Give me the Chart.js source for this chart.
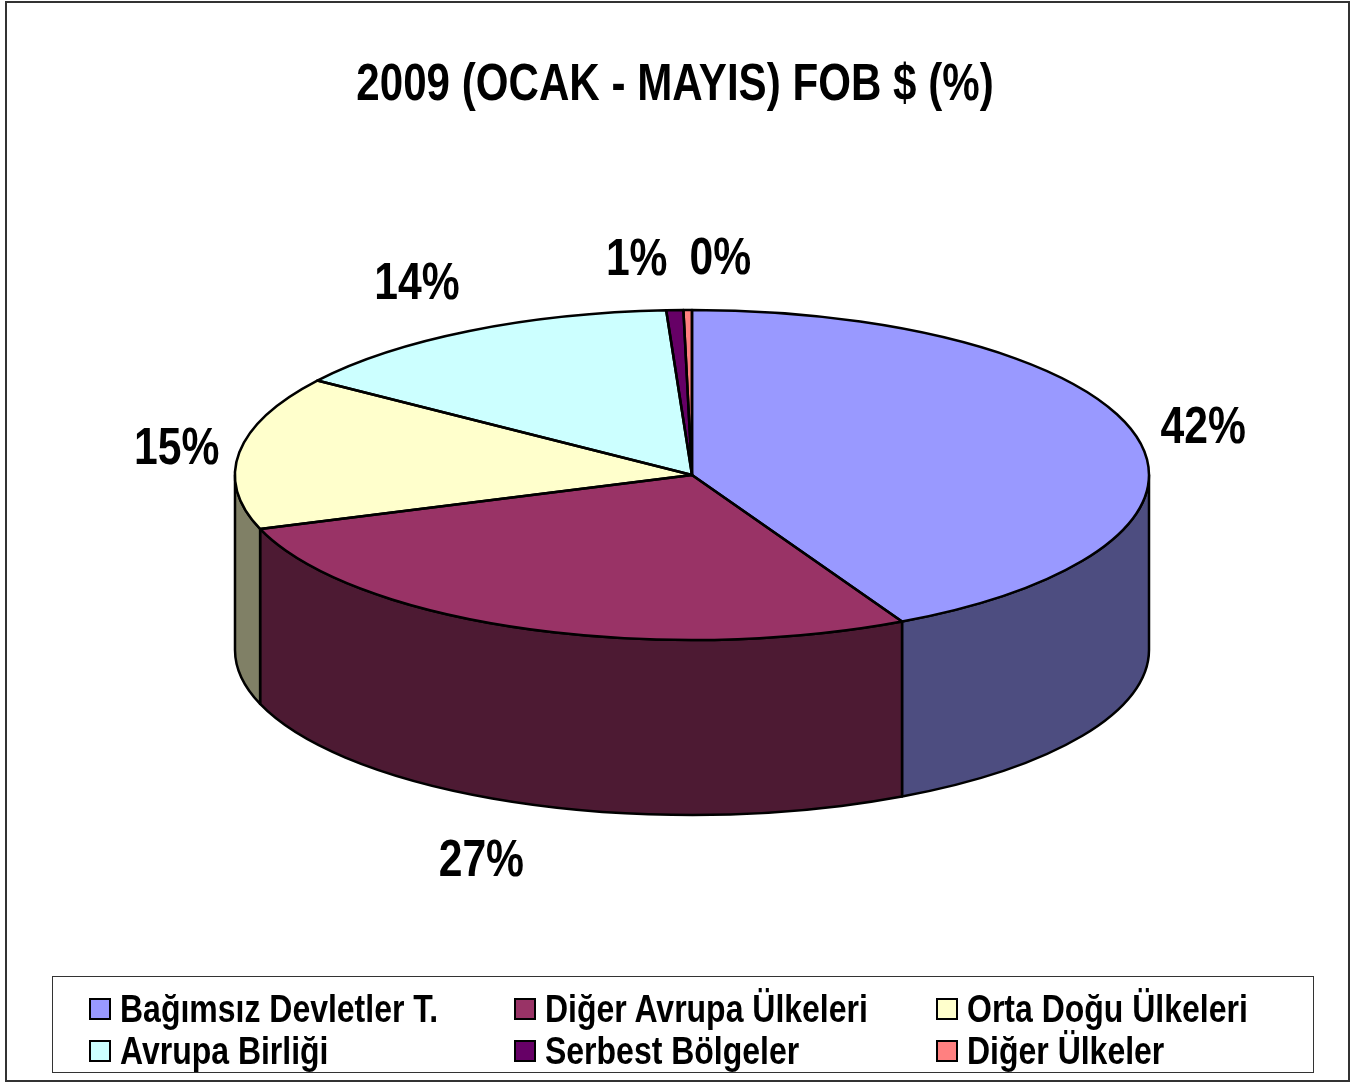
<!DOCTYPE html>
<html>
<head>
<meta charset="utf-8">
<title>2009 (OCAK - MAYIS) FOB $ (%)</title>
<script src="https://cdn.jsdelivr.net/npm/chart.js@4.4.1/dist/chart.umd.min.js"></script>
<style>
	body { margin: 0; background: #fff; }
	#cerceve { position: absolute; left: 5px; top: 1px; width: 1345px; height: 1081px; box-sizing: border-box; border: 2px solid #333; }
	#grafik-kap { position: absolute; left: 0; top: 0; width: 1359px; height: 1084px; }
	#baslik { position: absolute; left: 0; top: 56px; width: 1350px; text-align: center; line-height: 52px;
		font-family: "Liberation Sans", Arial, sans-serif; font-weight: bold; font-size: 52px; color: #000;
		transform: scaleX(0.81); transform-origin: 675px 0; white-space: nowrap; }
	#lejant { position: absolute; left: 52px; top: 976px; width: 1262px; height: 97px; box-sizing: border-box; border: 1px solid #333;
		font-family: "Liberation Sans", Arial, sans-serif; font-weight: bold; font-size: 39px; color: #000; }
	.lejant-oge { position: absolute; height: 42px; display: flex; align-items: center; white-space: nowrap; }
	.lejant-kutu { width: 18px; height: 18px; border: 2px solid #000; margin-right: 9px; flex: none; }
	.lejant-yazi { display: inline-block; transform: scaleX(0.82); transform-origin: 0 50%; }
</style>
</head>
<body>
<div id="grafik-kap"><canvas id="pasta-grafik"></canvas></div>
<div id="cerceve"></div>
<div id="baslik">2009 (OCAK - MAYIS) FOB $ (%)</div>
<div id="lejant"></div>
<script>
(function() {

	var bolgeler = ["Bağımsız Devletler T.", "Diğer Avrupa Ülkeleri", "Orta Doğu Ülkeleri", "Avrupa Birliği", "Serbest Bölgeler", "Diğer Ülkeler"];
	var paylar = [42.4, 27.3, 15.0, 14.4, 0.6, 0.3];
	var renkler = ["#9999FF", "#993366", "#FFFFCC", "#CCFFFF", "#660066", "#FF8080"];

	var YAZI = '"Liberation Sans", Arial, sans-serif';
	var DAR = 0.82; // Arial Narrow gorunumu icin yatay sikistirma

	// elips pastanin ekrandaki yeri (yatirilmis daire + yan duvar)
	var PASTA = { cx: 692, cy: 475, rx: 457, ry: 165, derinlik: 175 };

	function koyulastir(hex) {
		var n = parseInt(hex.slice(1), 16);
		var r = (n >> 16) & 255, g = (n >> 8) & 255, b = n & 255;
		return 'rgb(' + Math.round(r / 2) + ',' + Math.round(g / 2) + ',' + Math.round(b / 2) + ')';
	}

	var pasta3d = {
		id: 'pasta3d',
		beforeDatasetsDraw: function(chart) {
			var ctx = chart.ctx;
			var dilimler = chart.getDatasetMeta(0).data;

			// on taraftaki yan duvarlar
			ctx.save();
			ctx.lineWidth = 2.5;
			ctx.strokeStyle = '#000';
			ctx.lineJoin = 'round';
			dilimler.forEach(function(arc, i) {
				var a = Math.max(arc.startAngle, 0);
				var b = Math.min(arc.endAngle, Math.PI);
				if (b <= a) return;
				ctx.beginPath();
				ctx.ellipse(PASTA.cx, PASTA.cy, PASTA.rx, PASTA.ry, 0, a, b);
				ctx.ellipse(PASTA.cx, PASTA.cy + PASTA.derinlik, PASTA.rx, PASTA.ry, 0, b, a, true);
				ctx.closePath();
				ctx.fillStyle = koyulastir(renkler[i]);
				ctx.fill();
				ctx.stroke();
			});
			ctx.restore();

			// ust yuz: kutuphanenin cizdigi daire elipse basiliyor
			var ilk = dilimler[0];
			ctx.save();
			ctx.translate(PASTA.cx, PASTA.cy);
			ctx.scale(PASTA.rx / ilk.outerRadius, PASTA.ry / ilk.outerRadius);
			ctx.translate(-ilk.x, -ilk.y);
		},
		afterDatasetsDraw: function(chart) {
			var ctx = chart.ctx;
			ctx.restore();
			var dilimler = chart.getDatasetMeta(0).data;

			ctx.save();
			ctx.lineWidth = 2.5;
			ctx.strokeStyle = '#000';
			ctx.lineJoin = 'round';
			dilimler.forEach(function(arc) {
				ctx.beginPath();
				ctx.moveTo(PASTA.cx, PASTA.cy);
				ctx.ellipse(PASTA.cx, PASTA.cy, PASTA.rx, PASTA.ry, 0, arc.startAngle, arc.endAngle);
				ctx.closePath();
				ctx.stroke();
			});

			// yuzde etiketleri
			ctx.font = 'bold 52px ' + YAZI;
			ctx.fillStyle = '#000';
			ctx.textAlign = 'center';
			ctx.textBaseline = 'middle';
			var etiketler = dilimler.map(function(arc, i) {
				var t = (arc.startAngle + arc.endAngle) / 2;
				var s = Math.sin(t), c = Math.cos(t);
				var ax = 55 + 60 * Math.abs(s);
				var by = 45 + 15 * Math.abs(s);
				var metin = Math.round(paylar[i]) + '%';
				return {
					metin: metin,
					x: PASTA.cx + (PASTA.rx + ax) * c,
					y: PASTA.cy + (PASTA.ry + by) * s + (s > 0 ? PASTA.derinlik : 0),
					w: ctx.measureText(metin).width * DAR
				};
			});
			// ust uste binen etiketleri yana it
			for (var i = 0; i < etiketler.length; i++) {
				for (var j = i + 1; j < etiketler.length; j++) {
					var e1 = etiketler[i], e2 = etiketler[j];
					var gerek = (e1.w + e2.w) / 2 + 22;
					var dx = e1.x - e2.x;
					if (Math.abs(dx) < gerek && Math.abs(e1.y - e2.y) < 45) {
						var it = (gerek - Math.abs(dx)) / 2;
						var yon = dx >= 0 ? 1 : -1;
						e1.x += yon * it;
						e2.x -= yon * it;
						e1.y += 6;
						e2.y += 6;
					}
				}
			}
			etiketler.forEach(function(e) {
				ctx.save();
				ctx.translate(e.x, e.y + 4);
				ctx.scale(DAR, 1);
				ctx.fillText(e.metin, 0, 0);
				ctx.restore();
			});
			ctx.restore();
		}
	};

	var ctx = document.getElementById('pasta-grafik');
	var grafik = new Chart(ctx, {
		type: 'pie',
		data: {
			labels: bolgeler,
			datasets: [{
				data: paylar,
				backgroundColor: renkler,
				borderWidth: 0,
				clip: false
			}]
		},
		options: {
			responsive: true,
			maintainAspectRatio: false,
			animation: false,
			events: [],
			plugins: {
				legend: { display: false },
				tooltip: { enabled: false },
				title: { display: false }
			}
		},
		plugins: [pasta3d]
	});

	// lejant
	var lejant = document.getElementById('lejant');
	var sutunlar = [36, 461, 883];
	var satirlar = [11, 53];
	bolgeler.forEach(function(ad, i) {
		var oge = document.createElement('div');
		oge.className = 'lejant-oge';
		oge.style.left = sutunlar[i % 3] + 'px';
		oge.style.top = satirlar[Math.floor(i / 3)] + 'px';
		var kutu = document.createElement('span');
		kutu.className = 'lejant-kutu';
		kutu.style.background = renkler[i];
		var yazi = document.createElement('span');
		yazi.className = 'lejant-yazi';
		yazi.textContent = ad;
		oge.appendChild(kutu);
		oge.appendChild(yazi);
		lejant.appendChild(oge);
	});

})();
</script>
</body>
</html>
